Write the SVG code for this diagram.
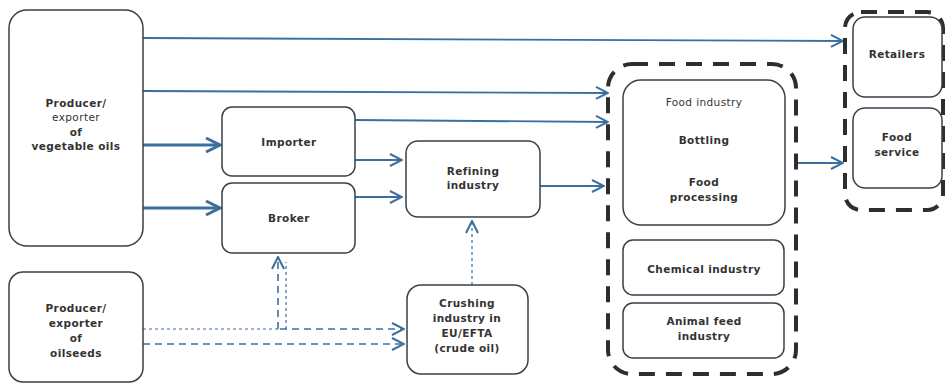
<svg xmlns="http://www.w3.org/2000/svg" width="947" height="385" viewBox="0 0 947 385">
<defs>
<marker id="ah" markerWidth="14" markerHeight="14" viewBox="0 0 14 14" refX="13" refY="7" orient="auto" markerUnits="userSpaceOnUse">
<path d="M1,1 L13,7 L1,13" fill="none" stroke="#3b6fa0" stroke-width="2"/>
</marker>
<marker id="ahb" markerWidth="18" markerHeight="18" viewBox="0 0 18 18" refX="16" refY="9" orient="auto" markerUnits="userSpaceOnUse">
<path d="M2,2 L16,9 L2,16" fill="none" stroke="#3b6fa0" stroke-width="3"/>
</marker>
</defs>
<style>
.box{fill:#fff;stroke:#3a4048;stroke-width:1.5}
.grp{fill:none;stroke:#2e2e2e;stroke-width:4;stroke-dasharray:16 11}
.t{font-family:"DejaVu Sans",Verdana,sans-serif;font-size:10.5px;letter-spacing:0.4px;font-weight:bold;fill:#333;text-anchor:middle}
.tn{font-family:"DejaVu Sans",Verdana,sans-serif;font-size:10.5px;letter-spacing:0.4px;fill:#333;text-anchor:middle}
.c{fill:none;stroke:#3b6fa0;stroke-width:1.8}
.cb{fill:none;stroke:#3b6fa0;stroke-width:3.2}
.d{fill:none;stroke:#3b6fa0;stroke-width:1.6;stroke-dasharray:7 5}
.dt{fill:none;stroke:#3b6fa0;stroke-width:1.2;stroke-dasharray:3 3}
</style>
<g id="connectors">
<path class="c" d="M143,38 L843,41" marker-end="url(#ah)"/>
<path class="c" d="M143,91 L608,93" marker-end="url(#ah)"/>
<path class="cb" d="M143,145 L220,145" marker-end="url(#ahb)"/>
<path class="cb" d="M143,208 L220,208" marker-end="url(#ahb)"/>
<path class="c" d="M355,120 L608,122" marker-end="url(#ah)"/>
<path class="c" d="M355,160 L402,160" marker-end="url(#ah)"/>
<path class="c" d="M355,197 L402,197" marker-end="url(#ah)"/>
<path class="c" d="M540,186 L604,186" marker-end="url(#ah)"/>
<path class="c" d="M796,163 L843,163" marker-end="url(#ah)"/>
<path class="dt" d="M143,329 L280,329"/>
<path class="d" d="M280,329 L404,329" marker-end="url(#ah)"/>
<path class="d" d="M143,344 L404,344" marker-end="url(#ah)"/>
<path class="d" d="M278,329 L278,257" marker-end="url(#ah)"/>
<path class="dt" d="M286,329 L286,262"/>
<path class="dt" d="M472,285 L472,221" marker-end="url(#ah)"/>
</g>
<g id="group-food"><rect class="grp" x="608" y="64" width="188" height="310" rx="24"/></g>
<g id="group-retail"><rect class="grp" x="845" y="12" width="98" height="198" rx="16"/></g>
<g id="producer-oils"><rect class="box" x="9" y="10" width="134" height="236" rx="18"/>
<text class="t" x="76" y="107">Producer/</text><text class="tn" x="76" y="121">exporter</text><text class="t" x="76" y="136">of</text><text class="t" x="76" y="150">vegetable oils</text></g>
<g id="importer"><rect class="box" x="222" y="107" width="133" height="69" rx="10"/><text class="t" x="289" y="146">Importer</text></g>
<g id="broker"><rect class="box" x="222" y="183" width="133" height="70" rx="10"/><text class="t" x="289" y="222">Broker</text></g>
<g id="refining"><rect class="box" x="406" y="141" width="134" height="76" rx="12"/><text class="t" x="473" y="175">Refining</text><text class="t" x="473" y="189">industry</text></g>
<g id="producer-oilseeds"><rect class="box" x="9" y="272" width="134" height="110" rx="14"/>
<text class="t" x="76" y="312">Producer/</text><text class="t" x="76" y="327">exporter</text><text class="t" x="76" y="342">of</text><text class="t" x="76" y="357">oilseeds</text></g>
<g id="crushing"><rect class="box" x="407" y="285" width="121" height="89" rx="14"/>
<text class="t" x="467" y="307">Crushing</text><text class="t" x="467" y="322">industry in</text><text class="t" x="467" y="337">EU/EFTA</text><text class="t" x="467" y="352">(crude oil)</text></g>
<g id="food-industry"><rect class="box" x="623" y="80" width="162" height="145" rx="18"/>
<text class="tn" x="704" y="106">Food industry</text><text class="t" x="704" y="144">Bottling</text><text class="t" x="704" y="186">Food</text><text class="t" x="704" y="201">processing</text></g>
<g id="chemical"><rect class="box" x="623" y="240" width="161" height="55" rx="10"/><text class="t" x="704" y="273">Chemical industry</text></g>
<g id="animal-feed"><rect class="box" x="623" y="303" width="161" height="55" rx="10"/><text class="t" x="704" y="325">Animal feed</text><text class="t" x="704" y="340">industry</text></g>
<g id="retailers"><rect class="box" x="853" y="17" width="89" height="80" rx="12"/><text class="t" x="897" y="58">Retailers</text></g>
<g id="food-service"><rect class="box" x="853" y="108" width="89" height="80" rx="12"/><text class="t" x="897" y="141">Food</text><text class="t" x="897" y="156">service</text></g>
</svg>
